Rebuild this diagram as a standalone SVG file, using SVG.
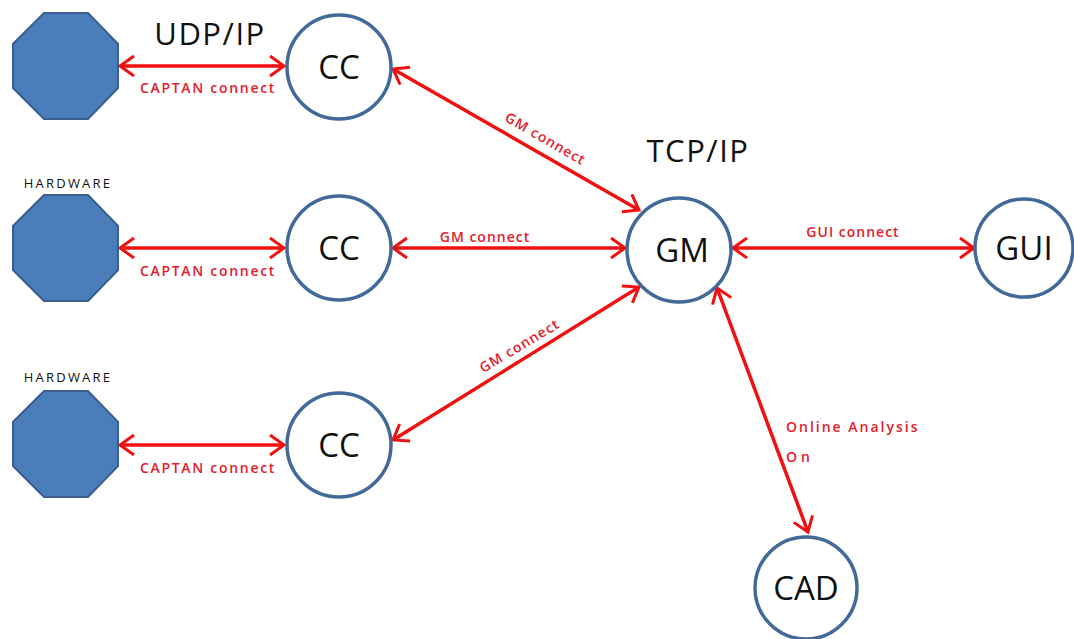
<svg xmlns="http://www.w3.org/2000/svg" width="1074" height="639" viewBox="0 0 1074 639">
<style>
.node{fill:#fff;stroke:#41699a;stroke-width:3.5}
.hw{fill:#4a7ebb;stroke:#3a5f8f;stroke-width:2}
.lbl{font-family:"Open Sans","Liberation Sans",sans-serif;font-size:33px;fill:#111;text-anchor:middle}
.big{font-family:"Open Sans","Liberation Sans",sans-serif;font-size:31px;fill:#111;text-anchor:middle;letter-spacing:1.5px}
.hwt{font-family:"Open Sans","Liberation Sans",sans-serif;font-size:13px;font-weight:500;fill:#111;text-anchor:middle;letter-spacing:2.2px}
.cl{font-family:"Open Sans","Liberation Sans",sans-serif;font-size:14px;font-weight:600;fill:#e3202a;text-anchor:middle;letter-spacing:1px}
.cap{letter-spacing:1.7px}
.ed{stroke:#f01010;stroke-width:3.5;fill:none;marker-start:url(#ah);marker-end:url(#ah)}
</style>
<defs>
<marker id="ah" markerUnits="userSpaceOnUse" markerWidth="24" markerHeight="24" refX="15" refY="11" orient="auto-start-reverse" viewBox="0 0 24 24">
<path d="M1,1 L15,11 L1,21" fill="none" stroke="#f01010" stroke-width="3"/>
</marker>
</defs>
<g id="connectors">
<line class="ed" x1="120" y1="66" x2="284" y2="66"/>
<line class="ed" x1="120" y1="248" x2="284" y2="248"/>
<line class="ed" x1="120" y1="445" x2="284" y2="445"/>
<line class="ed" x1="393" y1="69" x2="639" y2="210"/>
<line class="ed" x1="393" y1="248" x2="625" y2="248"/>
<line class="ed" x1="393" y1="440" x2="639" y2="287"/>
<line class="ed" x1="733" y1="248" x2="974" y2="248"/>
<line class="ed" x1="717" y1="288" x2="808" y2="532"/>
<text class="cl cap" x="208" y="93">CAPTAN connect</text>
<text class="cl cap" x="208" y="276">CAPTAN connect</text>
<text class="cl cap" x="208" y="473">CAPTAN connect</text>
<text class="cl" transform="translate(543,143) rotate(30)">GM connect</text>
<text class="cl" x="485" y="242">GM connect</text>
<text class="cl" transform="translate(522,350) rotate(-31)">GM connect</text>
<text class="cl" x="853" y="237">GUI connect</text>
<text class="cl" x="786" y="432" style="text-anchor:start;letter-spacing:2px">Online Analysis</text>
<text class="cl" x="786" y="462" style="text-anchor:start;letter-spacing:4px">On</text>
</g>
<g id="hw1"><polygon class="hw" points="44,13 88,13 118,44 118,88 88,119 44,119 13,88 13,44"/></g>
<g id="hw2"><text class="hwt" x="68" y="188">HARDWARE</text><polygon class="hw" points="44,195 88,195 118,226 118,270 88,301 44,301 13,270 13,226"/></g>
<g id="hw3"><text class="hwt" x="68" y="382">HARDWARE</text><polygon class="hw" points="44,391 88,391 118,422 118,466 88,497 44,497 13,466 13,422"/></g>
<g id="cc1"><circle class="node" cx="339" cy="67" r="52"/><text class="lbl" x="339" y="79">CC</text></g>
<g id="cc2"><circle class="node" cx="339" cy="248" r="52"/><text class="lbl" x="339" y="260">CC</text></g>
<g id="cc3"><circle class="node" cx="339" cy="445" r="52"/><text class="lbl" x="339" y="457">CC</text></g>
<g id="gm"><circle class="node" cx="679" cy="250" r="52"/><text class="lbl" x="682" y="262">GM</text></g>
<g id="gui"><circle class="node" cx="1024" cy="248" r="49"/><text class="lbl" x="1024" y="260">GUI</text></g>
<g id="cad"><circle class="node" cx="806" cy="588" r="51"/><text class="lbl" x="806" y="600">CAD</text></g>
<text class="big" x="210" y="45">UDP/IP</text>
<text class="big" x="698" y="162">TCP/IP</text>
</svg>
